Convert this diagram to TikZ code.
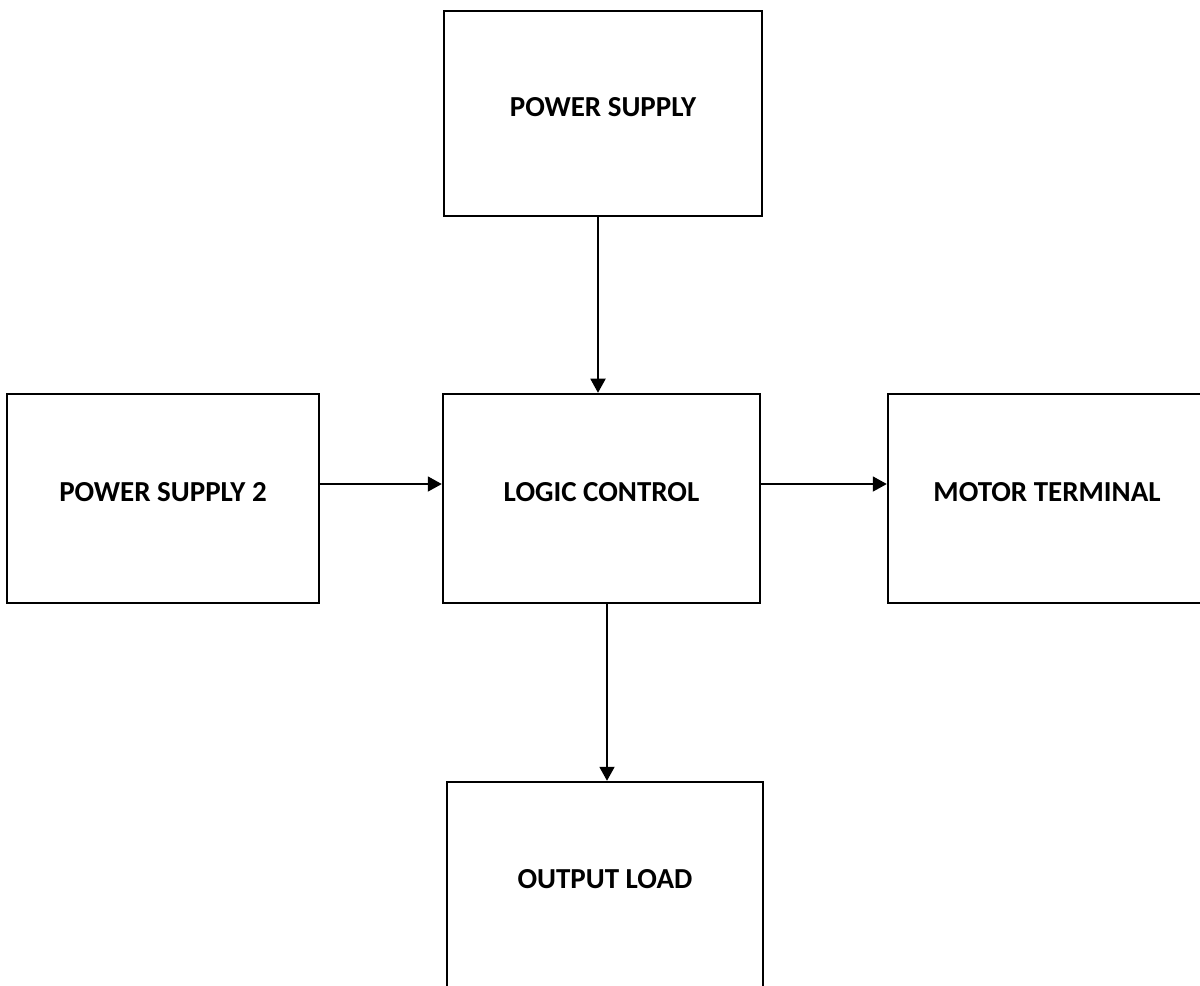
\documentclass[tikz,border=0pt]{standalone}
\usepackage{fontspec}
\setmainfont{Carlito}
\usetikzlibrary{arrows.meta}
\tikzset{
  blockbox/.style={draw=black, line width=1.4pt, fill=none, minimum width=#1, inner sep=0pt,
    font=\bfseries\fontsize{16.5pt}{18pt}\selectfont, text depth=7.5pt, align=center},
  arr/.style={line width=1.2pt, -{Triangle[length=8pt,width=8.5pt]}}
}
\begin{document}
\begin{tikzpicture}[x=0.02cm, y=-0.02cm]
\clip (0,0) rectangle (1200,985);
\fill[white] (0,0) rectangle (1200,985);
\node[blockbox=6.36cm, minimum height=4.1cm] (ps) at (603,113.5) {POWER SUPPLY};
\node[blockbox=6.24cm, minimum height=4.18cm] (ps2) at (163,498.5) {POWER SUPPLY 2};
\node[blockbox=6.34cm, minimum height=4.18cm] (lc) at (601.5,498.5) {LOGIC CONTROL};
\node[blockbox=6.36cm, minimum height=4.18cm] (mt) at (1047,498.5) {MOTOR TERMINAL};
\node[blockbox=6.32cm, minimum height=4.16cm] (ol) at (605,886) {OUTPUT LOAD};
\draw[arr] ([xshift=-0.1cm]ps.south) -- ([xshift=-0.1cm]ps.south |- lc.north);
\draw[arr] ([yshift=0.29cm]ps2.east) -- ([yshift=0.29cm]ps2.east -| lc.west);
\draw[arr] ([yshift=0.29cm]lc.east) -- ([yshift=0.29cm]lc.east -| mt.west);
\draw[arr] ([xshift=0.11cm]lc.south) -- ([xshift=0.11cm]lc.south |- ol.north);
\end{tikzpicture}
\end{document}
